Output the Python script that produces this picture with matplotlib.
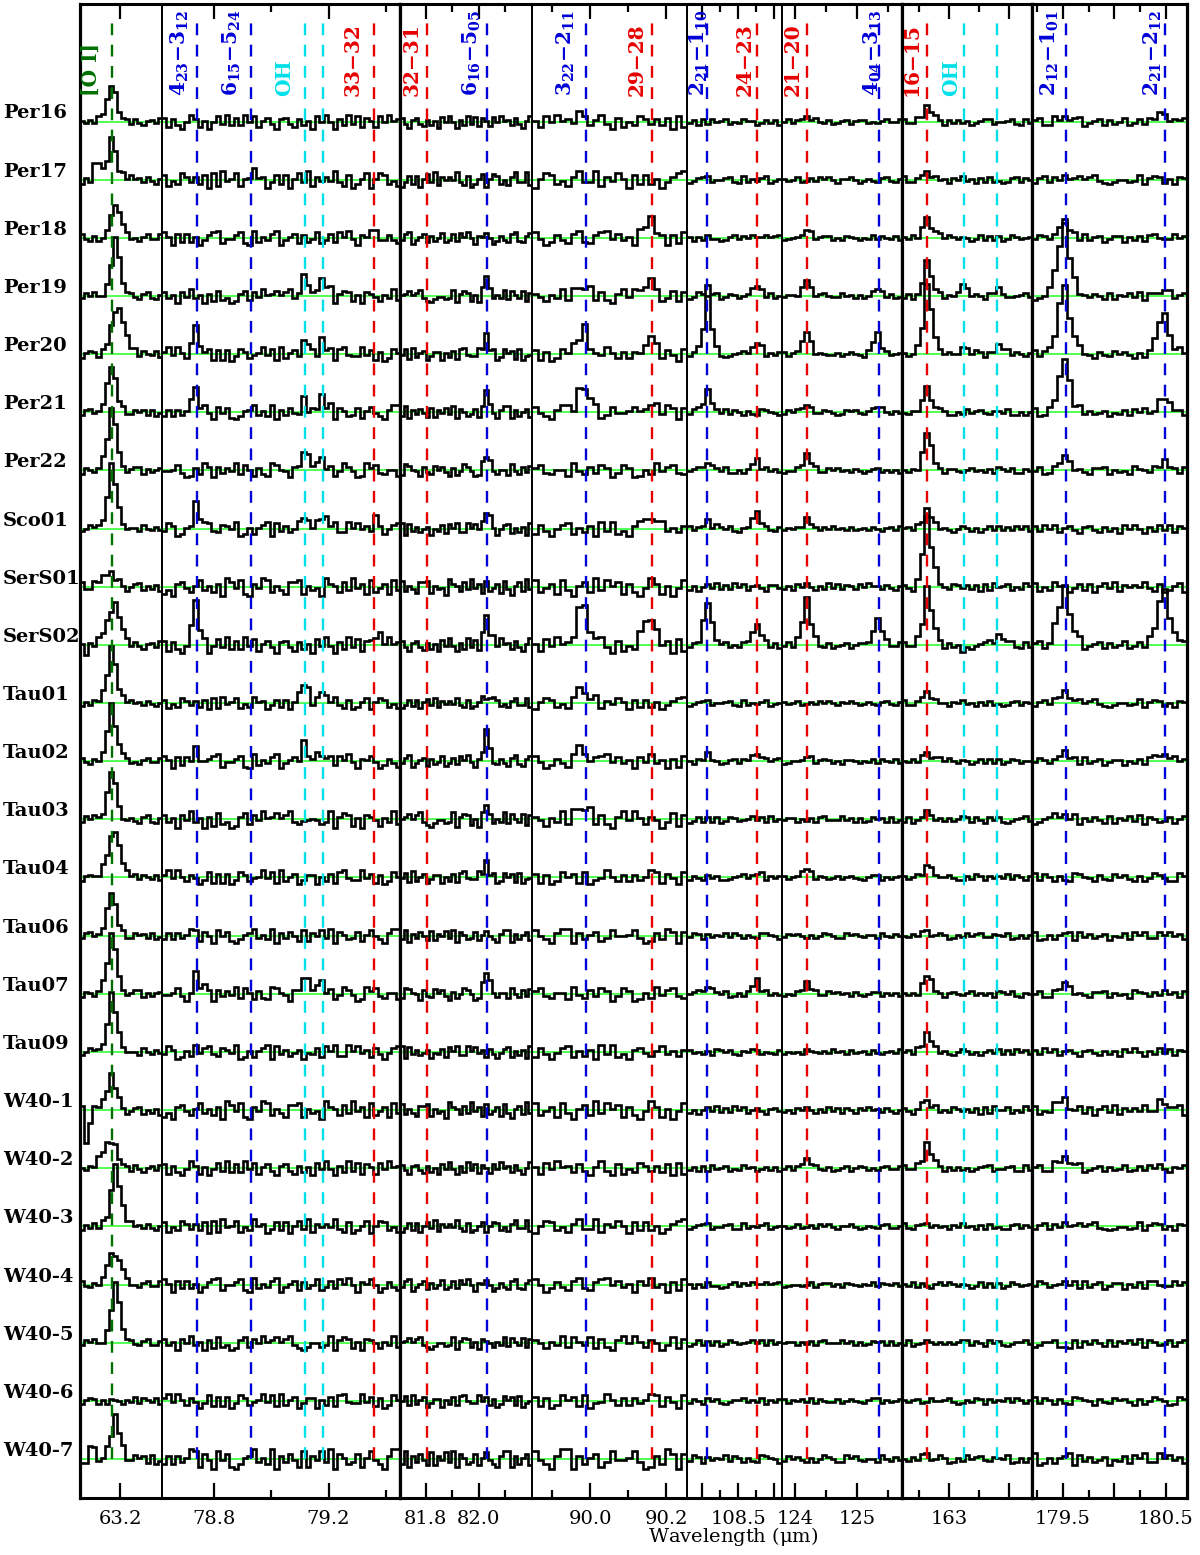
import numpy as np
import matplotlib
matplotlib.use('Agg')
import matplotlib.pyplot as plt

plt.rcParams['font.family'] = ['DejaVu Serif', 'DejaVu Sans']
plt.rcParams['mathtext.fontset'] = 'dejavuserif'
plt.rcParams['mathtext.default'] = 'bf'

sources = ['Per16', 'Per17', 'Per18', 'Per19', 'Per20', 'Per21', 'Per22', 'Sco01',
           'SerS01', 'SerS02', 'Tau01', 'Tau02', 'Tau03', 'Tau04', 'Tau06', 'Tau07',
           'Tau09', 'W40-1', 'W40-2', 'W40-3', 'W40-4', 'W40-5', 'W40-6', 'W40-7']

# wavelength windows (um) of the 8 panels
panel_lims = [(63.120, 63.284), (78.619, 79.449), (81.702, 82.202), (89.847, 90.255),
              (107.79, 109.11), (123.79, 125.73), (162.608, 163.69), (179.199, 180.704)]
panel_bins = [20, 53, 36, 28, 21, 27, 29, 31]
major_ticks = [[63.2], [78.8, 79.2], [81.8, 82.0], [90.0, 90.2], [108.0, 108.5, 109.0],
               [124.0, 125.0], [163.0, 163.5], [179.5, 180.0, 180.5]]
major_labels = [['63.2'], ['78.8', '79.2'], ['81.8', '82.0'], ['90.0', '90.2'], ['', '108.5', ''],
                ['124', '125'], ['163', ''], ['179.5', '', '180.5']]
minor_ticks = [[], [79.0, 79.4], [81.9, 82.1], [89.9, 90.1], [108.25, 108.75],
               [124.5, 125.5], [162.75, 163.25], [179.25, 179.75, 180.25]]

# line identifications
line_panel = [0, 1, 1, 1, 1, 1, 2, 2, 3, 3, 4, 4, 5, 5, 6, 6, 6, 7, 7]
line_wave = [63.184, 78.742, 78.928, 79.118, 79.181, 79.360, 81.806, 82.032, 89.988, 90.163,
             108.073, 108.763, 124.193, 125.354, 162.812, 163.120, 163.396, 179.527, 180.488]
line_kind = ['oi', 'h2o', 'h2o', 'oh', 'oh', 'co', 'co', 'h2o', 'h2o', 'co',
             'h2o', 'co', 'co', 'h2o', 'co', 'oh', 'oh', 'h2o', 'h2o']

label_panel = [0, 1, 1, 1, 1, 2, 2, 3, 3, 4, 4, 5, 5, 6, 6, 7, 7]
label_wave = [63.142, 78.682, 78.862, 79.046, 79.283, 81.747, 81.975, 89.936, 90.123,
              107.957, 108.596, 123.967, 125.258, 162.691, 163.016, 179.374, 180.374]
label_text = ['[O I]', '4$_{23}$\u22123$_{12}$', '6$_{15}$\u22125$_{24}$', 'OH', '33\u221232',
              '32\u221231', '6$_{16}$\u22125$_{05}$', '3$_{22}$\u22122$_{11}$', '29\u221228',
              '2$_{21}$\u22121$_{10}$', '24\u221223', '21\u221220', '4$_{04}$\u22123$_{13}$',
              '16\u221215', 'OH', '2$_{12}$\u22121$_{01}$', '2$_{21}$\u22122$_{12}$']
label_kind = ['oi', 'h2o', 'h2o', 'oh', 'co', 'co', 'h2o', 'h2o', 'co',
              'h2o', 'co', 'co', 'h2o', 'co', 'oh', 'h2o', 'h2o']

kind_color = {'oi': '#007000', 'h2o': '#0000d8', 'oh': '#00e0e8', 'co': '#e80000'}

# peak heights above the baseline, one value per source (same order as sources)
amp_oi = [38, 40, 36, 56, 46, 46, 62, 62, 14, 40, 55, 55, 47, 44, 43, 60,
          56, 36, 28, 62, 32, 58, 0, 42]
oi_shift = [0, 0, 1, 1, 2, 0, 0, 0, 0, 1, 0, 0, 0, 1, 0, 0, 0, 0, 0, 1, 1, 1, 0, 1]
oi_broad = [0, 0, 0, 0, 1, 0, 0, 0, 1, 1, 0, 0, 0, 1, 0, 0, 0, 0, 1, 0, 1, 0, 0, 0]
amp_423 = [0, 0, 0, 0, 30, 20, 0, 21, 0, 42, 0, 14, 0, 0, 0, 20, 0, 0, 0, 0, 0, 0, 0, 0]
amp_615 = [0, 6, 0, 0, 0, 0, 0, 0, 0, 0, 0, 0, 0, 0, 0, 0, 0, 0, 0, 0, 0, 0, 0, 0]
amp_oh79a = [0, 0, 0, 29, 16, 11, 22, 18, 0, 0, 20, 19, 7, 0, 0, 20, 0, 0, 0, 0, 0, 0, 0, 0]
amp_oh79b = [0, 0, 0, 22, 16, 13, 16, 15, 0, 0, 12, 11, 0, 0, 0, 16, 0, 0, 0, 0, 0, 0, 0, 0]
amp_co33 = [0, 0, 9, 0, 0, 0, 0, 10, 0, 13, 0, 0, 0, 0, 0, 0, 0, 0, 0, 0, 0, 0, 0, 0]
amp_co32 = [0, 0, 0, 0, 0, 0, 0, 0, 0, 0, 0, 0, 0, 0, 0, 0, 0, 0, 0, 0, 0, 0, 0, 0]
amp_616 = [0, 0, 0, 18, 18, 18, 11, 20, 0, 29, 9, 27, 12, 14, 0, 19, 0, 0, 0, 0, 0, 0, 0, 0]
amp_322 = [8, 0, 0, 9, 25, 27, 0, 0, 0, 42, 12, 11, 12, 0, 0, 0, 0, 0, 0, 0, 0, 0, 0, 0]
amp_co29 = [0, 0, 15, 16, 11, 13, 0, 13, 0, 27, 0, 0, 0, 0, 0, 0, 0, 0, 0, 0, 0, 0, 0, 0]
amp_221a = [0, 0, 0, 9, 56, 22, 9, 9, 0, 44, 0, 7, 0, 0, 0, 8, 0, 0, 0, 0, 0, 0, 0, 0]
amp_co24 = [0, 0, 0, 10, 13, 0, 9, 15, 0, 24, 0, 7, 0, 5, 0, 13, 0, 0, 0, 0, 0, 0, 0, 0]
amp_co21 = [5, 0, 9, 17, 23, 10, 15, 9, 0, 47, 0, 5, 0, 9, 0, 11, 0, 0, 9, 0, 0, 0, 0, 0]
amp_404 = [0, 0, 0, 7, 20, 7, 0, 0, 0, 29, 0, 0, 0, 0, 0, 0, 0, 0, 0, 0, 0, 0, 0, 0]
amp_co16 = [16, 5, 22, 33, 71, 25, 38, 18, 72, 58, 9, 11, 6, 13, 5, 19, 18, 11, 25, 0, 0, 0, 0, 5]
amp_oh163a = [0, 0, 0, 9, 9, 0, 0, 0, 0, -5, 0, 0, 0, 0, 0, 0, 0, 0, 0, 0, 0, 0, 0, 0]
amp_oh163b = [0, 0, 0, 7, 9, 0, 0, 0, 0, 11, 0, 0, 0, 0, 0, 0, 0, 0, 0, 0, 0, 0, 0, 0]
amp_212 = [5, 0, 15, 73, 71, 51, 11, 0, 0, 58, 9, 7, 5, 0, 0, 8, 0, 11, 12, 0, 0, -5, 0, 0]
amp_221b = [8, 0, 0, 7, 42, 13, 7, 0, 0, 56, 0, 8, 0, 0, 0, 0, 0, 11, 0, 0, 0, 0, 0, 0]

line_amps = [amp_oi, amp_423, amp_615, amp_oh79a, amp_oh79b, amp_co33, amp_co32, amp_616,
             amp_322, amp_co29, amp_221a, amp_co24, amp_co21, amp_404, amp_co16,
             amp_oh163a, amp_oh163b, amp_212, amp_221b]

# line profile shapes per panel (in bins), peak index second
kernel_oi = ([0.06, 0.2, 0.55, 1.0, 0.7, 0.3, 0.1, 0.03], 3)
kernel_oi_broad = ([0.1, 0.3, 0.6, 0.9, 1.0, 0.75, 0.4, 0.15, 0.05], 4)
panel_kernel = [kernel_oi,
                ([0.3, 1.0, 0.5, 0.15], 1),
                ([0.3, 1.0, 0.5, 0.15], 1),
                ([0.3, 0.8, 1.0, 0.5, 0.15], 2),
                ([0.15, 0.5, 1.0, 0.45, 0.12], 2),
                ([0.15, 0.5, 1.0, 0.45, 0.12], 2),
                ([0.1, 0.4, 1.0, 0.6, 0.25, 0.08], 2),
                ([0.1, 0.3, 0.7, 1.0, 0.55, 0.2, 0.08], 3)]

# bin-to-bin scatter: noise level per panel and per source, pattern digits read as 0..9
panel_noise = [3.5, 7, 6, 7, 3, 2.5, 3, 4]
row_noise = [1.0, 1.2, 1.0, 1.0, 1.0, 1.0, 1.0, 1.0, 1.3, 1.1, 0.9, 1.0, 1.2, 1.0, 1.0, 1.0,
             1.0, 1.3, 1.0, 1.0, 1.0, 1.0, 1.0, 1.4]
noise_digits = ('5273946182461830572938571620496150483927294815730673162508494062938175'
                '1849562730593071428636270819458142956037270583916464931702580587241693'
                '3916485072725036891446810925379035716248137285940658402631792168947350'
                '7493506182301682749568579310244239068715076415392853817206949526403817'
                '1703862459481925703660527189433947160285718034952626359817408471025693'
                '5290637418164839075237158420699062571384458301629707364928516219854073'
                '2857306149740196832551942738603860152947832764901515790836246043718592'
                '29584617304781526093913067425835260974810649825317781534096')

# isolated deviating bins: (source index, panel, bin, extra value)
extra_bins = [(17, 0, 1, -30), (17, 0, 2, -10), (23, 0, 1, -8), (23, 0, 2, 8), (23, 0, 3, 12),
              (1, 0, 3, 12), (1, 0, 4, 16), (9, 0, 1, -8)]

row_step = 58.15
W, H = 1200.0, 1555.0
panel_px = [82, 238, 132, 155, 95, 120, 130, 155]
thick_edges = {1, 5, 6}  # right edge of these panels drawn heavy


def add_profile(vals, edges, wave, amp, kernel, shift=0):
    shape, kc = kernel
    j = np.searchsorted(edges, wave) - 1 + shift
    for k, kv in enumerate(shape):
        idx = j + k - kc
        if 0 <= idx < len(vals):
            vals[idx] += amp * kv


fig = plt.figure(figsize=(12, 15.55), dpi=100)
x_left = 80.0
axes = []
for p in range(8):
    ax = fig.add_axes([x_left / W, 1 - 1498 / H, panel_px[p] / W, (1498 - 4) / H])
    x_left += panel_px[p]
    axes.append(ax)

    lo, hi = panel_lims[p]
    edges = np.linspace(lo, hi, panel_bins[p] + 1)
    nb = panel_bins[p]
    for r in range(len(sources)):
        off = -r * row_step
        start = (r * 61 + p * 23) % len(noise_digits)
        digits = np.array([int(noise_digits[(start + k) % len(noise_digits)]) for k in range(nb)])
        vals = (digits - 4.5) / 4.5 * panel_noise[p] * row_noise[r]
        for li in range(len(line_wave)):
            if line_panel[li] != p:
                continue
            amp = line_amps[li][r]
            if amp == 0:
                continue
            if li == 0:
                kern = kernel_oi_broad if oi_broad[r] else kernel_oi
                add_profile(vals, edges, line_wave[li], amp, kern, oi_shift[r])
            else:
                add_profile(vals, edges, line_wave[li], amp, panel_kernel[p])
        for (er, ep, eb, ev) in extra_bins:
            if er == r and ep == p:
                vals[eb] += ev
        ax.axhline(off, color='#22ff22', lw=1.1, zorder=1)
        ax.stairs(vals + off, edges, baseline=None, color='black', lw=1.9, zorder=2)

    for li in range(len(line_wave)):
        if line_panel[li] == p:
            ax.plot([line_wave[li], line_wave[li]], [-23 * row_step, 106.5],
                    color=kind_color[line_kind[li]], lw=1.7, dashes=(5, 4), zorder=3)
    for k in range(len(label_text)):
        if label_panel[k] == p:
            ax.text(label_wave[k], 26.0, label_text[k], rotation=90, ha='center', va='bottom',
                    color=kind_color[label_kind[k]], fontsize=14.5, fontweight='bold', zorder=4)

    ax.set_xlim(lo, hi)
    ax.set_ylim(-1376.5, 117.5)
    ax.set_yticks([])
    ax.set_xticks(major_ticks[p])
    ax.set_xticklabels(major_labels[p], fontsize=14)
    ax.set_xticks(minor_ticks[p], minor=True)
    ax.tick_params(which='both', direction='in', top=True, bottom=True, width=1.6, pad=9)
    ax.tick_params(which='major', length=10.5)
    ax.tick_params(which='minor', length=5.5)
    ax.spines['top'].set_linewidth(2.2)
    ax.spines['bottom'].set_linewidth(2.2)
    left_thick = p == 0 or (p - 1) in thick_edges
    right_thick = p == 7 or p in thick_edges
    ax.spines['left'].set_linewidth(2.3 if left_thick else 1.4)
    ax.spines['right'].set_linewidth(2.3 if right_thick else 1.4)

for r, name in enumerate(sources):
    y_px = 121.5 + r * row_step - 8
    fig.text(3 / W, 1 - y_px / H, name, ha='left', va='center', fontsize=14, fontweight='bold')

fig.text(733 / W, 1 - 1537 / H, 'Wavelength ($\\mathrm{\\mu}$m)', ha='center', va='center',
         fontsize=14)

fig.savefig('out.png', dpi=100)
